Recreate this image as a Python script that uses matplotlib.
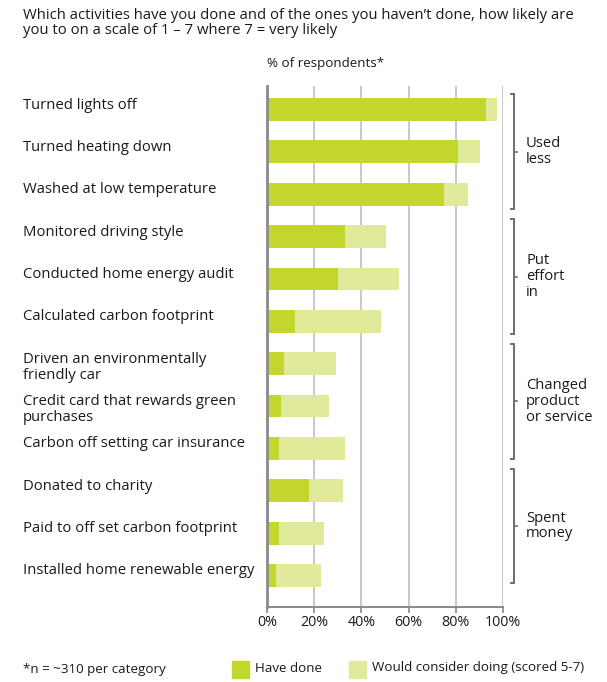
import matplotlib
matplotlib.use("Agg")
import matplotlib.pyplot as plt
from matplotlib.transforms import offset_copy, blended_transform_factory

plt.rcParams['font.family'] = ['Open Sans', 'DejaVu Sans']

activities = [
    "Turned lights off",
    "Turned heating down",
    "Washed at low temperature",
    "Monitored driving style",
    "Conducted home energy audit",
    "Calculated carbon footprint",
    "Driven an environmentally\nfriendly car",
    "Credit card that rewards green\npurchases",
    "Carbon off setting car insurance",
    "Donated to charity",
    "Paid to off set carbon footprint",
    "Installed home renewable energy",
]
have_done = [92.8, 80.9, 75.0, 33.1, 30.1, 11.9, 7.2, 5.9, 5.1, 17.8, 5.1, 3.8]
would_consider = [4.7, 9.4, 10.2, 17.3, 25.8, 36.4, 22.0, 20.4, 28.0, 14.4, 19.1, 19.1]
groups = ["Used\nless", "Put\neffort\nin", "Changed\nproduct\nor service", "Spent\nmoney"]
xticks = [0, 20, 40, 60, 80, 100]
xtick_labels = ["0%", "20%", "40%", "60%", "80%", "100%"]

DARK = "#C2D62E"
LIGHT = "#E0EA9A"
TXT = "#1a1a1a"

fig = plt.figure(figsize=(6.07, 6.82), dpi=100)
ax = fig.add_axes([267 / 607, 1 - 607 / 682, 236 / 607, (607 - 86) / 682])

y = list(range(len(activities)))
ax.barh(y, have_done, height=0.54, color=DARK, zorder=3)
ax.barh(y, would_consider, left=have_done, height=0.54, color=LIGHT, zorder=3)

ax.set_xlim(0, 100)
ax.set_ylim(11.744, -0.555)
ax.set_xticks(xticks)
ax.set_xticklabels(xtick_labels, fontsize=10.3)
ax.set_yticks([])
ax.grid(axis="x", color="#C8C8C8", linewidth=1.4, zorder=0)
for s in ["top", "right"]:
    ax.spines[s].set_visible(False)
ax.spines["left"].set_color("#8A8A8A")
ax.spines["left"].set_linewidth(2)
ax.spines["left"].set_zorder(4)
ax.spines["bottom"].set_color("#8A8A8A")
ax.spines["bottom"].set_linewidth(1.4)
ax.tick_params(axis="x", length=4, width=1.2, color="#8A8A8A", pad=2, labelcolor=TXT)

# Activity labels on the left, top-aligned just above each bar centre
lbl_tr = blended_transform_factory(fig.transFigure, ax.transData)
lbl_tr = offset_copy(lbl_tr, fig=fig, x=0, y=12, units="dots")
for i, name in enumerate(activities):
    ax.text(23 / 607, i, name, transform=lbl_tr, ha="left", va="top",
            fontsize=10.7, color=TXT, linespacing=1.08)

# Group brackets on the right (slightly tighter pitch than three rows)
br_tr = blended_transform_factory(fig.transFigure, ax.transData)
xb = 514 / 607
tick = 3 / 607
pitch, half = 2.944, 1.357
for k, g in enumerate(groups):
    mid = 1 + k * pitch
    top, bot = mid - half, mid + half
    ax.plot([xb - tick, xb, xb, xb - tick], [top, top, bot, bot], transform=br_tr,
            color="#6E6E6E", lw=1.4, clip_on=False, solid_joinstyle="miter")
    ax.plot([xb, xb + tick], [mid, mid], transform=br_tr, color="#6E6E6E",
            lw=1.2, clip_on=False)
    ax.text(526 / 607, mid, g, transform=br_tr, ha="left", va="center",
            fontsize=10.6, color=TXT, linespacing=1.08)

fig.text(23 / 607, 1 - 8 / 682,
         "Which activities have you done and of the ones you haven\u2019t done, how likely are\n"
         "you to on a scale of 1 \u2013 7 where 7 = very likely",
         ha="left", va="top", fontsize=10.7, color=TXT, linespacing=1.02)
fig.text(267 / 607, 1 - 63 / 682, "% of respondents*", ha="left", va="center",
         fontsize=9.6, color=TXT)

# Footer note and legend
fig.text(23 / 607, 1 - 670 / 682, "*n = ~310 per category", ha="left", va="center",
         fontsize=9.6, color=TXT)
for x0, col, txt in [(232, DARK, "Have done"), (349, LIGHT, "Would consider doing (scored 5-7)")]:
    fig.patches.append(plt.Rectangle((x0 / 607, 1 - 678 / 682), 17 / 607, 17 / 682,
                                     transform=fig.transFigure, color=col))
    fig.text((x0 + 23) / 607, 1 - 668 / 682, txt, ha="left", va="center",
             fontsize=9.6, color=TXT)

fig.savefig("out.png", dpi=100)
